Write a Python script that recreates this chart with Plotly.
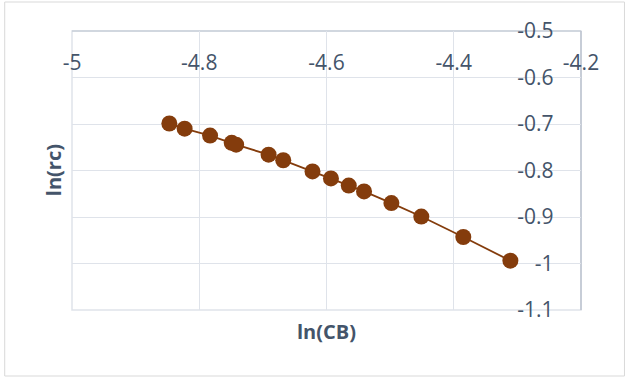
import plotly.graph_objects as go

ln_cb = [-4.847, -4.823, -4.783, -4.749, -4.742, -4.691, -4.668, -4.622,
         -4.593, -4.565, -4.541, -4.498, -4.451, -4.385, -4.311]
ln_rc = [-0.699, -0.710, -0.725, -0.7405, -0.7445, -0.766, -0.778, -0.802,
         -0.817, -0.8325, -0.845, -0.870, -0.899, -0.943, -0.994]

x_ticks = [-5, -4.8, -4.6, -4.4, -4.2]
x_tick_text = ["-5", "-4.8", "-4.6", "-4.4", "-4.2"]
y_ticks = [-1.1, -1.0, -0.9, -0.8, -0.7, -0.6, -0.5]
y_tick_text = ["-1.1", "-1", "-0.9", "-0.8", "-0.7", "-0.6", "-0.5"]

color = "#843C0C"
grid = "#dfe3ea"
axis_line = "#bcc3cf"
tick_col = "#44546a"
font_family = "Open Sans, Liberation Sans, sans-serif"

fig = go.Figure()
fig.add_trace(go.Scatter(
    x=ln_cb, y=ln_rc, mode="lines+markers",
    line=dict(color=color, width=1.8),
    marker=dict(color=color, size=16),
    showlegend=False,
))

fig.update_layout(
    width=626, height=378,
    margin=dict(l=72.3, r=44.5, t=31, b=68),
    paper_bgcolor="white", plot_bgcolor="white",
    font=dict(family=font_family, color=tick_col, size=21),
    xaxis=dict(
        range=[-5, -4.2], tickvals=x_ticks, ticktext=x_tick_text,
        side="top", anchor="free", position=0.845,
        showgrid=True, gridcolor=grid, gridwidth=1,
        zeroline=False, showline=False, ticks="",
        tickfont=dict(size=21, color=tick_col, family=font_family),
    ),
    yaxis=dict(
        range=[-1.1, -0.5], tickvals=y_ticks, ticktext=y_tick_text,
        side="left", anchor="free", position=0.946,
        showgrid=True, gridcolor=grid, gridwidth=1,
        zeroline=False, showline=False, ticks="",
        tickfont=dict(size=21, color=tick_col, family=font_family),
    ),
    shapes=[
        dict(type="rect", xref="paper", yref="paper", x0=0, x1=1, y0=0, y1=1,
             line=dict(color=grid, width=1.5), layer="below"),
        dict(type="line", xref="paper", yref="paper", x0=0, x1=1, y0=1, y1=1,
             line=dict(color=axis_line, width=1.2), layer="below"),
        dict(type="line", xref="paper", yref="paper", x0=1, x1=1, y0=0, y1=1,
             line=dict(color=axis_line, width=1.5), layer="below"),
        dict(type="rect", xref="paper", yref="paper", x0=-0.1322, x1=1.0854,
             y0=-0.2366, y1=1.1039, line=dict(color="#d9d9d9", width=1)),
    ],
    annotations=[
        dict(text="<b>ln(CB)</b>", xref="paper", yref="paper", x=0.5, y=-0.0753,
             showarrow=False, font=dict(size=20, color=tick_col, family=font_family),
             xanchor="center", yanchor="middle"),
        dict(text="<b>ln(rc)</b>", xref="paper", yref="paper", x=-0.036, y=0.5,
             showarrow=False, textangle=-90,
             font=dict(size=20, color=tick_col, family=font_family),
             xanchor="center", yanchor="middle"),
    ],
)

fig.write_html("out.html", config={"displayModeBar": False},
               post_script="document.body.style.margin='0px';")
